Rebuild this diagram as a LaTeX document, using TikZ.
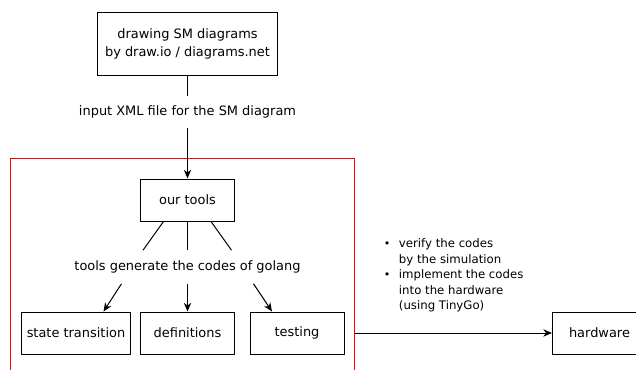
\documentclass[tikz,border=0pt]{standalone}
\usepackage{fontspec}
\setmainfont{DejaVu Sans}
\usetikzlibrary{arrows.meta,calc}

\tikzset{
  box/.style={draw, line width=0.75pt, inner sep=0pt, align=center,
              minimum width=70.5pt, minimum height=31.5pt},
  caption/.style={inner sep=0pt, align=center},
  link/.style={line width=0.75pt},
  flow/.style={line width=0.75pt, -{Stealth[length=6.5pt,width=5.5pt,inset=2pt]}},
  frame/.style={draw=red, line width=0.75pt, inner sep=0pt,
                minimum width=258pt, minimum height=180pt, anchor=north west}
}

\begin{document}
\begin{tikzpicture}[x=0.75pt, y=-0.75pt, font=\fontsize{9.7}{11.7}\selectfont]
  \useasboundingbox (0,0) rectangle (636,369);
  \clip (0,0) rectangle (636,369);

  % source diagram editor
  \node (editor) [box, minimum width=135pt, minimum height=47.25pt,
                  font=\fontsize{9.7}{13.5}\selectfont]
        at (187.5,44) {drawing SM diagrams\\by draw.io / diagrams.net};
  \node (xml) [caption, minimum height=24pt] at (187.5,112) {input XML file for the SM diagram};

  % tool chain
  \node (chain) [frame] at (10,157.5) {};
  \node (tools) [box] at (187.5,200) {our tools};
  \node (gen) [caption, minimum height=24.75pt] at (187.5,267) {tools generate the codes of golang};

  \node (trans) [box, minimum width=81.75pt] at (76,333) {state transition};
  \node (defs)  [box] at (187.5,333) {definitions};
  \node (test)  [box] at (297,333) {testing};

  \node (hw) [box, anchor=west] at (552,333) {hardware};

  \node (notes) [inner sep=0pt, anchor=west, font=\fontsize{8.8}{11.6}\selectfont]
        at (383.5,275.5) {%
    \begin{tabular}{@{}c@{\hspace{6.5pt}}l@{}}
      {\fontsize{8.3}{11.6}\selectfont •} & verify the codes\\
        & by the simulation\\
      {\fontsize{8.3}{11.6}\selectfont •} & implement the codes\\
        & into the hardware\\
        & (using TinyGo)
    \end{tabular}};

  % connectors
  \draw[link] (editor.south) -- (xml.north);
  \draw[flow] (xml.south) -- (tools.north);

  \draw[link] ($(tools.south)+(-24,0)$) -- ($(gen.north)+(-44.5,0)$);
  \draw[link] (tools.south) -- (gen.north);
  \draw[link] ($(tools.south)+(23.5,0)$) -- ($(gen.north)+(44,0)$);

  \draw[flow] ($(gen.south)+(-66,0)$) -- ($(trans.north)+(27.5,0)$);
  \draw[flow] (gen.south) -- (defs.north);
  \draw[flow] ($(gen.south)+(66,0)$) -- ($(test.north)+(-25,0)$);

  \draw[flow] (test.east -| chain.east) -- (hw.west);
\end{tikzpicture}
\end{document}
